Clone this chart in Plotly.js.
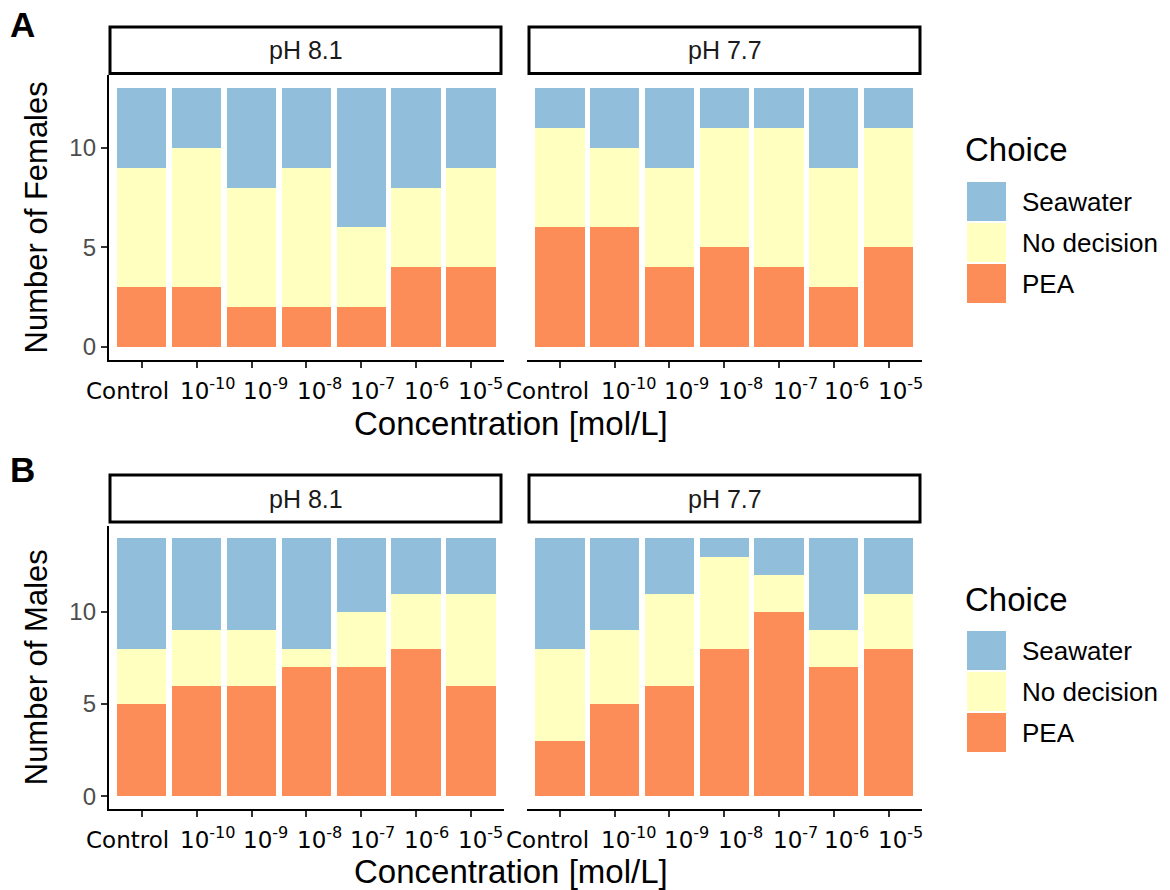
<!DOCTYPE html>
<html>
<head>
<meta charset="utf-8">
<script src="https://cdn.plot.ly/plotly-3.0.1.min.js"></script>
<style>html,body{margin:0;padding:0;background:#fff;}#chart{width:1170px;height:890px;}</style>
</head>
<body>
<div id="chart"></div>
<script>
// ---------------- data ----------------
const categories = ["Control", "1e-10", "1e-9", "1e-8", "1e-7", "1e-6", "1e-5"];
const tickLabels = ["Control", "10<sup>-10</sup>", "10<sup>-9</sup>", "10<sup>-8</sup>", "10<sup>-7</sup>", "10<sup>-6</sup>", "10<sup>-5</sup>"];
const choices = ["PEA", "No decision", "Seawater"];
const legendOrder = ["Seawater", "No decision", "PEA"];
const facets = ["pH 8.1", "pH 7.7"];

// Females (panel A)
const femalesPH81_PEA       = [3, 3, 2, 2, 2, 4, 4];
const femalesPH81_NoDecision = [6, 7, 6, 7, 4, 4, 5];
const femalesPH81_Seawater  = [4, 3, 5, 4, 7, 5, 4];
const femalesPH77_PEA       = [6, 6, 4, 5, 4, 3, 5];
const femalesPH77_NoDecision = [5, 4, 5, 6, 7, 6, 6];
const femalesPH77_Seawater  = [2, 3, 4, 2, 2, 4, 2];

// Males (panel B)
const malesPH81_PEA       = [5, 6, 6, 7, 7, 8, 6];
const malesPH81_NoDecision = [3, 3, 3, 1, 3, 3, 5];
const malesPH81_Seawater  = [6, 5, 5, 6, 4, 3, 3];
const malesPH77_PEA       = [3, 5, 6, 8, 10, 7, 8];
const malesPH77_NoDecision = [5, 4, 5, 5, 2, 2, 3];
const malesPH77_Seawater  = [6, 5, 3, 1, 2, 5, 3];

const yTicks = [0, 5, 10];

// ---------------- styling ----------------
const colors = {"PEA": "#FC8D59", "No decision": "#FFFFBF", "Seawater": "#91BFDB"};
const W = 1170, H = 890;
const px = x => x / W;
const py = y => 1 - y / H;
const labelFont = "'Liberation Sans', Arial, Helvetica, sans-serif";
const tickFont = "'DejaVu Sans', Verdana, sans-serif";
// horizontal nudges of the category labels (pixels), as in the reference
const labelShiftLeft = [-14, 11, 14, 13, 11, 10, 9];
const labelShiftRight = [-12, 14, 17, 16, 16, 13, 12];

const panels = [
  {xa: "x",  ya: "y",  data: [femalesPH81_PEA, femalesPH81_NoDecision, femalesPH81_Seawater], shift: labelShiftLeft, base: 405},
  {xa: "x2", ya: "y2", data: [femalesPH77_PEA, femalesPH77_NoDecision, femalesPH77_Seawater], shift: labelShiftRight, base: 405},
  {xa: "x3", ya: "y3", data: [malesPH81_PEA, malesPH81_NoDecision, malesPH81_Seawater], shift: labelShiftLeft, base: 854},
  {xa: "x4", ya: "y4", data: [malesPH77_PEA, malesPH77_NoDecision, malesPH77_Seawater], shift: labelShiftRight, base: 854}
];

const traces = [];
panels.forEach(p => {
  choices.forEach((c, i) => {
    traces.push({
      type: "bar",
      name: c,
      x: categories,
      y: p.data[i],
      xaxis: p.xa,
      yaxis: p.ya,
      width: 0.9,
      marker: {color: colors[c], line: {width: 0}},
      showlegend: false,
      hovertemplate: c + ": %{y}<extra></extra>"
    });
  });
});

// geometry (pixels)
const xLeft = [108.8, 504];
const xRight = [527, 921.5];
const yA = [75.1, 359.6];
const yB = [525.5, 809];

function xaxisDef(dom, anchor) {
  return {
    domain: [px(dom[0]), px(dom[1])],
    anchor: anchor,
    type: "category",
    categoryorder: "array",
    categoryarray: categories,
    tickvals: categories,
    ticktext: tickLabels,
    showticklabels: false,
    range: [-0.6, 6.6],
    showline: true, linecolor: "#000", linewidth: 2,
    ticks: "outside", ticklen: 6, tickwidth: 2, tickcolor: "#333",
    showgrid: false, zeroline: false, fixedrange: true
  };
}
function yaxisDef(dom, anchor, rng, showLabels, title) {
  const a = {
    domain: [py(dom[1]), py(dom[0])],
    anchor: anchor,
    range: rng,
    tickvals: yTicks,
    showgrid: false, zeroline: false, fixedrange: true
  };
  if (showLabels) {
    Object.assign(a, {
      showline: true, linecolor: "#000", linewidth: 2,
      ticks: "outside", ticklen: 6, tickwidth: 2, tickcolor: "#333",
      tickfont: {family: labelFont, size: 24, color: "#4D4D4D"},
      title: {text: title, font: {family: labelFont, size: 31, color: "#000"}, standoff: 12}
    });
  } else {
    Object.assign(a, {showline: false, ticks: "", showticklabels: false});
  }
  return a;
}

const shapes = [];
const annotations = [];

// category labels placed at each category's position (index) on the x axis
panels.forEach(p => {
  categories.forEach((cat, i) => {
    annotations.push({xref: p.xa, yref: "paper", x: categories.indexOf(cat), y: py(p.base),
      text: tickLabels[i], showarrow: false, xanchor: "center", yanchor: "bottom",
      xshift: p.shift[i], borderpad: 0,
      font: {family: tickFont, size: 23, color: "#000"}});
  });
});

// facet strips
function strip(x0, x1, y0, y1, text) {
  shapes.push({type: "rect", xref: "paper", yref: "paper",
    x0: px(x0), x1: px(x1), y0: py(y1), y1: py(y0),
    line: {color: "#000", width: 3}, fillcolor: "#fff"});
  annotations.push({xref: "paper", yref: "paper", x: px((x0 + x1) / 2), y: py((y0 + y1) / 2),
    text: text, showarrow: false, xanchor: "center", yanchor: "middle",
    font: {family: labelFont, size: 25, color: "#1A1A1A"}});
}
strip(110, 501, 27, 73.5, facets[0]);
strip(529, 920, 27, 73.5, facets[1]);
strip(110, 501, 475, 522, facets[0]);
strip(529, 920, 475, 522, facets[1]);

// x-axis titles (shared across facets)
function xTitle(yc) {
  annotations.push({xref: "paper", yref: "paper", x: px(511), y: py(yc),
    text: "Concentration [mol/L]", showarrow: false, xanchor: "center", yanchor: "middle",
    font: {family: labelFont, size: 33, color: "#000"}});
}
xTitle(423);
xTitle(871);

// panel tags
annotations.push({xref: "paper", yref: "paper", x: px(8), y: py(25), text: "<b>A</b>", showarrow: false,
  xanchor: "left", yanchor: "middle", font: {family: labelFont, size: 35, color: "#000"}});
annotations.push({xref: "paper", yref: "paper", x: px(8), y: py(470), text: "<b>B</b>", showarrow: false,
  xanchor: "left", yanchor: "middle", font: {family: labelFont, size: 35, color: "#000"}});

// legends (drawn as keys + labels)
function legend(offset) {
  annotations.push({xref: "paper", yref: "paper", x: px(963), y: py(150 + offset), text: "Choice",
    showarrow: false, xanchor: "left", yanchor: "middle",
    font: {family: labelFont, size: 33, color: "#000"}});
  legendOrder.forEach((c, i) => {
    const top = 182 + offset + i * 41;
    shapes.push({type: "rect", xref: "paper", yref: "paper",
      x0: px(967), x1: px(1006), y0: py(top + 39), y1: py(top),
      line: {width: 0}, fillcolor: colors[c]});
    annotations.push({xref: "paper", yref: "paper", x: px(1020), y: py(top + 19.5), text: c,
      showarrow: false, xanchor: "left", yanchor: "middle",
      font: {family: labelFont, size: 26, color: "#000"}});
  });
}
legend(0);
legend(449);

const layout = {
  width: W, height: H,
  margin: {l: 0, r: 0, t: 0, b: 0, pad: 0},
  paper_bgcolor: "#fff", plot_bgcolor: "#fff",
  barmode: "stack",
  bargap: 0.1,
  showlegend: false,
  xaxis: xaxisDef(xLeft, "y"),
  xaxis2: xaxisDef(xRight, "y2"),
  xaxis3: xaxisDef(xLeft, "y3"),
  xaxis4: xaxisDef(xRight, "y4"),
  yaxis: yaxisDef(yA, "x", [-0.65, 13.65], true, "Number of Females"),
  yaxis2: yaxisDef(yA, "x2", [-0.65, 13.65], false),
  yaxis3: yaxisDef(yB, "x3", [-0.7, 14.7], true, "Number of Males"),
  yaxis4: yaxisDef(yB, "x4", [-0.7, 14.7], false),
  shapes: shapes,
  annotations: annotations
};

Plotly.newPlot("chart", traces, layout, {displayModeBar: false, staticPlot: false});
</script>
</body>
</html>
